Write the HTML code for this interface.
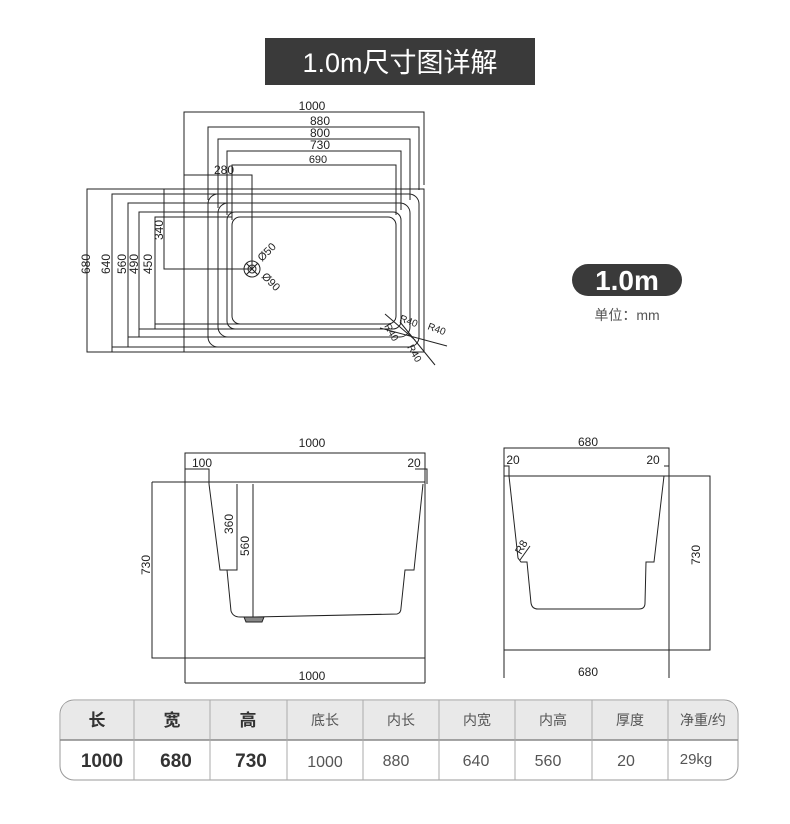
<!DOCTYPE html>
<html><head><meta charset="utf-8"><style>
body{margin:0;background:#fff;width:790px;height:824px;overflow:hidden;font-family:"Liberation Sans","Noto Sans CJK SC",sans-serif;}
svg{position:absolute;left:0;top:0}
</style></head><body>
<svg width="790" height="824" viewBox="0 0 790 824" xmlns="http://www.w3.org/2000/svg">
<rect width="790" height="824" fill="#fff"/>
<rect x="265" y="38" width="270" height="47" fill="#3a3a3a"/>
<text x="400" y="72" font-size="27" fill="#fff" text-anchor="middle" font-family="Liberation Sans, Noto Sans CJK SC, sans-serif">1.0m尺寸图详解</text>
<rect x="572" y="264" width="110" height="32" rx="16" fill="#3a3a3a"/>
<text x="627" y="290" font-size="28" font-weight="bold" fill="#fff" text-anchor="middle">1.0m</text>
<text x="627" y="320" font-size="14" fill="#555" text-anchor="middle" font-family="Liberation Sans, Noto Sans CJK SC, sans-serif">单位：mm</text>

<g fill="none" stroke="#222" stroke-width="1">
<!-- top view -->
<path d="M184 352V112H424V185"/>
<path d="M208 200V127H419V190"/>
<path d="M218 208V139H410V200"/>
<path d="M227 215V151H401V210"/>
<path d="M232 220V165H396V215"/>
<path d="M184 189V175H252V269"/>
<rect x="87" y="189" width="337" height="163"/>
<path d="M112 352V194H218M112 347H220"/>
<path d="M128 347V203H227M128 337H230"/>
<path d="M139 337V212H232M139 329H235"/>
<path d="M155 329V217H232M155 324H240"/>
<path d="M164 189V269H252"/>
<rect x="208" y="194" width="211" height="153" rx="10"/>
<rect x="218" y="203" width="192" height="134" rx="10"/>
<rect x="227" y="212" width="174" height="117" rx="8"/>
<rect x="232" y="217" width="164" height="107" rx="8"/>
<circle cx="252" cy="269" r="8"/><circle cx="252" cy="269" r="4"/>
<path d="M246 275L258 263M246 263L258 275"/>
<path d="M385 314L415 340M380 328L447 346M400 322L435 365"/>
<!-- side view -->
<path d="M185 683V453H425V683"/>
<path d="M152 482H425M152 482V658H425M185 683H425"/>
<path d="M185 469H209V484M415 469H427V484"/>
<path d="M209 484L220 570H237V484M227 570L231 611Q233 617 240 617H253L397 614Q401 613 401 608L405 570H414L423 484"/>
<path d="M253 484V617"/>
<path d="M244 617H264L262 622H246Z" fill="#888"/>
<!-- end view -->
<path d="M504 678V448H669V678"/>
<path d="M504 476H710V650H504"/>
<path d="M504 466H509V476M664 466H669V476"/>
<path d="M509 476L518 558L521 562H527L531 603Q532 609 538 609H639Q645 609 645 603L646 562H654L664 476"/>
<path d="M520 560L530 546"/>
</g>
<g font-size="12" fill="#222">
<text x="312" y="110" text-anchor="middle">1000</text>
<text x="320" y="125" text-anchor="middle">880</text>
<text x="320" y="137" text-anchor="middle">800</text>
<text x="320" y="149" text-anchor="middle">730</text>
<text x="318" y="163" text-anchor="middle" font-size="11">690</text>
<text x="224" y="174" text-anchor="middle">280</text>
<text transform="translate(90,264) rotate(-90)" text-anchor="middle">680</text>
<text transform="translate(110,264) rotate(-90)" text-anchor="middle">640</text>
<text transform="translate(126,264) rotate(-90)" text-anchor="middle">560</text>
<text transform="translate(138,264) rotate(-90)" text-anchor="middle">490</text>
<text transform="translate(152,264) rotate(-90)" text-anchor="middle">450</text>
<text transform="translate(163,230) rotate(-90)" text-anchor="middle">340</text>
<text transform="translate(262,262) rotate(-45)" font-size="11">Ø50</text>
<text transform="translate(261,277) rotate(45)" font-size="11">Ø90</text>
<text transform="translate(399,321) rotate(20)" font-size="10">R40</text>
<text transform="translate(427,329) rotate(20)" font-size="10">R40</text>
<text transform="translate(384,326) rotate(60)" font-size="10">R40</text>
<text transform="translate(407,347) rotate(60)" font-size="10">R40</text>
<text x="312" y="447" text-anchor="middle">1000</text>
<text x="202" y="467" text-anchor="middle">100</text>
<text x="414" y="467" text-anchor="middle">20</text>
<text transform="translate(233,524) rotate(-90)" text-anchor="middle">360</text>
<text transform="translate(249,546) rotate(-90)" text-anchor="middle">560</text>
<text transform="translate(150,565) rotate(-90)" text-anchor="middle">730</text>
<text x="312" y="680" text-anchor="middle">1000</text>
<text x="588" y="446" text-anchor="middle">680</text>
<text x="513" y="464" text-anchor="middle">20</text>
<text x="653" y="464" text-anchor="middle">20</text>
<text transform="translate(521,555) rotate(-60)" font-size="11">R8</text>
<text transform="translate(700,555) rotate(-90)" text-anchor="middle">730</text>
<text x="588" y="676" text-anchor="middle">680</text>
</g>
<!-- table -->
<rect x="60" y="700" width="678" height="80" rx="14" fill="#fff" stroke="#999"/>
<path d="M61 740V714Q61 701 74 701H724Q737 701 737 714V740Z" fill="#e9e9e9"/>
<path d="M60 740H738" stroke="#888" stroke-width="1.5"/>
<g stroke="#aaa"><path d="M134 700V780M210 700V780M287 700V780M363 700V780M439 700V780M515 700V780M592 700V780M668 700V780"/></g>
<g font-family="Liberation Sans, Noto Sans CJK SC, sans-serif" text-anchor="middle" fill="#333">
<g font-size="17" font-weight="bold"><text x="97" y="726">长</text><text x="172" y="726">宽</text><text x="248" y="726">高</text>
<text x="102" y="767" font-size="19">1000</text><text x="176" y="767" font-size="19">680</text><text x="251" y="767" font-size="19">730</text></g>
<g font-size="14" fill="#555"><text x="325" y="725">底长</text><text x="401" y="725">内长</text><text x="477" y="725">内宽</text><text x="553" y="725">内高</text><text x="630" y="725">厚度</text><text x="703" y="725">净重/约</text>
<text x="325" y="767" font-size="16">1000</text><text x="396" y="766" font-size="16">880</text><text x="476" y="766" font-size="16">640</text><text x="548" y="766" font-size="16">560</text><text x="626" y="766" font-size="16">20</text><text x="696" y="764" font-size="15">29kg</text></g>
</g>
</svg>
</body></html>
